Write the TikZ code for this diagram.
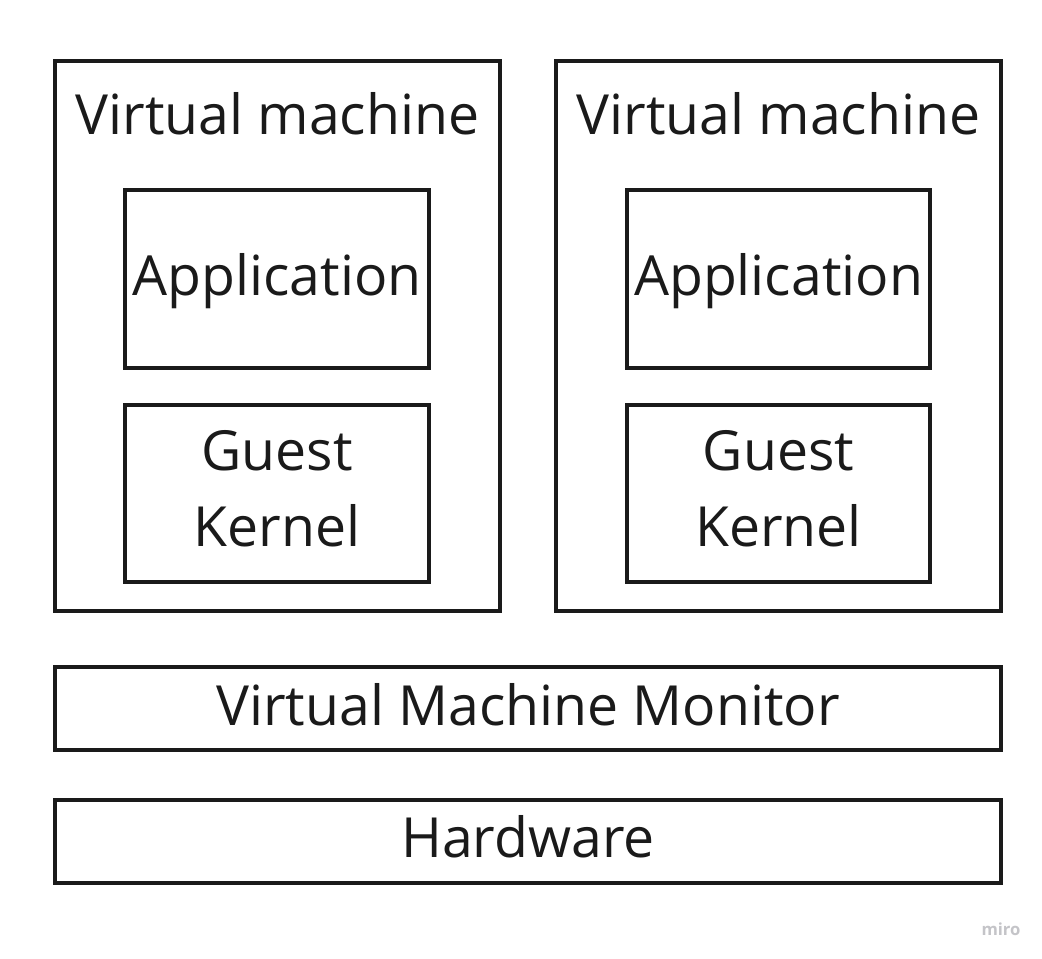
\documentclass[tikz,border=0pt]{standalone}
\usepackage{fontspec}
\setmainfont{Open Sans}
\definecolor{ink}{HTML}{1A1A1A}
\definecolor{wm}{HTML}{C4C4C8}
\begin{document}
\begin{tikzpicture}[x=0.75pt,y=-0.75pt,
  box/.style={draw=ink,line width=2.3pt},
  lbl/.style={text=ink,font=\fontsize{41.5}{56}\selectfont,anchor=base,inner sep=0pt}]
\useasboundingbox[fill=white] (0,0) rectangle (1042,959);
\path[box] (55,61) rectangle (500,611) coordinate (vm1);
\path[box] (556,61) rectangle (1001,611) coordinate (vm2);
\path[box] (125,190) rectangle (429,368) coordinate (app1);
\path[box] (125,405) rectangle (429,582) coordinate (gk1);
\path[box] (627,190) rectangle (930,368) coordinate (app2);
\path[box] (627,405) rectangle (930,582) coordinate (gk2);
\path[box] (55,667) rectangle (1001,750) coordinate (vmm);
\path[box] (55,800) rectangle (1001,883) coordinate (hw);
\node[lbl] (t1) at (277.5,135) {Virtual machine};
\node[lbl] (t2) at (778.5,135) {Virtual machine};
\node[lbl] (a1) at (277,296) {Application};
\node[lbl] (a2) at (778.5,296) {Application};
\node[lbl] (g1) at (277,470) {Guest};
\node[lbl] (k1) at (277,546) {Kernel};
\node[lbl] (g2) at (778.5,470) {Guest};
\node[lbl] (k2) at (778.5,546) {Kernel};
\node[lbl] (m) at (528,725) {Virtual Machine Monitor};
\node[lbl] (h) at (528,857) {Hardware};
\node[text=wm,font=\fontsize{12.5}{14}\selectfont\bfseries,anchor=base,inner sep=0pt] (miro) at (1001,935) {miro};
\end{tikzpicture}
\end{document}
